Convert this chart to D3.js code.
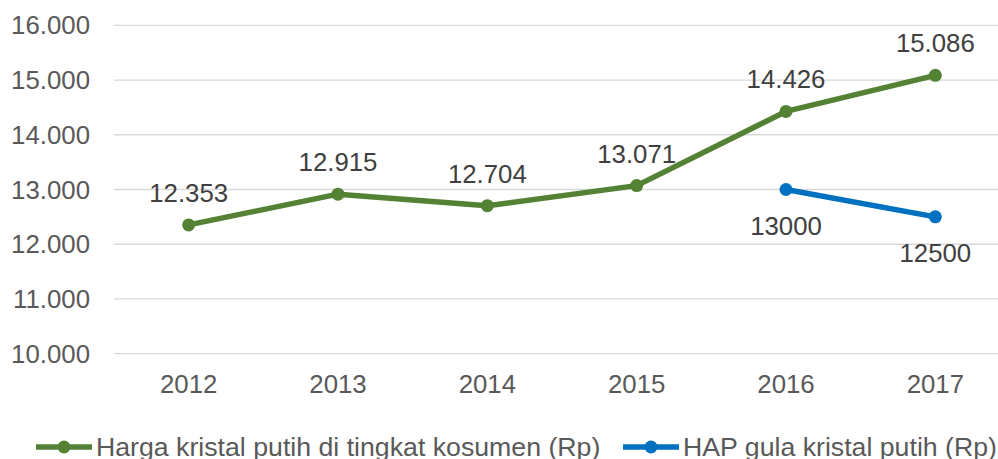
<!DOCTYPE html>
<html>
<head>
<meta charset="utf-8">
<script src="https://cdn.jsdelivr.net/npm/d3@7"></script>
<style>
  body { margin: 0; background: #fff; }
  svg text { font-family: "Liberation Sans", Arial, sans-serif; }
</style>
</head>
<body>
<div id="chart"></div>
<script>
var years = ["2012", "2013", "2014", "2015", "2016", "2017"];
var hargaValues = [12353, 12915, 12704, 13071, 14426, 15086];
var hapYears = ["2016", "2017"];
var hapValues = [13000, 12500];
var yTicks = [10000, 11000, 12000, 13000, 14000, 15000, 16000];
var seriesNames = ["Harga kristal putih di tingkat kosumen (Rp)", "HAP gula kristal putih (Rp)"];

var width = 998, height = 459;
var green = "#548235", blue = "#0070C0";

var svg = d3.select("#chart").append("svg")
  .attr("width", width)
  .attr("height", height);

var x = d3.scaleBand().domain(years).range([114, 1010]);
var y = d3.scaleLinear().domain([10000, 16000]).range([353.7, 25.3]);
var cx = function (d) { return x(d) + x.bandwidth() / 2; };

// gridlines
svg.append("g").selectAll("line")
  .data(yTicks)
  .enter().append("line")
  .attr("x1", 114)
  .attr("x2", width)
  .attr("y1", function (d) { return y(d); })
  .attr("y2", function (d) { return y(d); })
  .attr("stroke", "#d9d9d9")
  .attr("stroke-width", 1.3);

// y tick labels
var dotFmt = function (v) { return d3.format(",")(v).replace(/,/g, "."); };
svg.append("g").selectAll("text")
  .data(yTicks)
  .enter().append("text")
  .attr("x", 90)
  .attr("y", function (d) { return y(d); })
  .attr("dy", "0.35em")
  .attr("text-anchor", "end")
  .attr("font-size", 25.8)
  .attr("fill", "#595959")
  .text(function (d) { return dotFmt(d); });

// x tick labels
svg.append("g").selectAll("text")
  .data(years)
  .enter().append("text")
  .attr("x", cx)
  .attr("y", 393)
  .attr("text-anchor", "middle")
  .attr("font-size", 25.8)
  .attr("fill", "#595959")
  .text(function (d) { return d; });

var line = d3.line()
  .x(function (d) { return cx(d[0]); })
  .y(function (d) { return y(d[1]); });

var harga = d3.zip(years, hargaValues);
var hap = d3.zip(hapYears, hapValues);

function drawSeries(data, color, labelFn, dyLabel) {
  svg.append("path")
    .datum(data)
    .attr("fill", "none")
    .attr("stroke", color)
    .attr("stroke-width", 5.5)
    .attr("stroke-linejoin", "round")
    .attr("d", line);
  svg.append("g").selectAll("circle")
    .data(data)
    .enter().append("circle")
    .attr("cx", function (d) { return cx(d[0]); })
    .attr("cy", function (d) { return y(d[1]); })
    .attr("r", 6.5)
    .attr("fill", color);
  svg.append("g").selectAll("text")
    .data(data)
    .enter().append("text")
    .attr("x", function (d) { return cx(d[0]); })
    .attr("y", function (d) { return y(d[1]) + dyLabel; })
    .attr("text-anchor", "middle")
    .attr("font-size", 25.8)
    .attr("fill", "#404040")
    .text(function (d) { return labelFn(d[1]); });
}

drawSeries(harga, green, dotFmt, -23);
drawSeries(hap, blue, function (v) { return String(v); }, 45);

// legend
var legend = [
  { name: seriesNames[0], color: green, x0: 36 },
  { name: seriesNames[1], color: blue, x0: 623 }
];
var lg = svg.append("g").selectAll("g")
  .data(legend)
  .enter().append("g")
  .attr("transform", function (d) { return "translate(" + d.x0 + ",447)"; });
lg.append("line")
  .attr("x1", 0).attr("x2", 56)
  .attr("stroke", function (d) { return d.color; })
  .attr("stroke-width", 5.5);
lg.append("circle")
  .attr("cx", 28).attr("r", 6.5)
  .attr("fill", function (d) { return d.color; });
lg.append("text")
  .attr("x", 60)
  .attr("y", 9)
  .attr("font-size", 26.7)
  .attr("fill", "#595959")
  .text(function (d) { return d.name; });
</script>
</body>
</html>
